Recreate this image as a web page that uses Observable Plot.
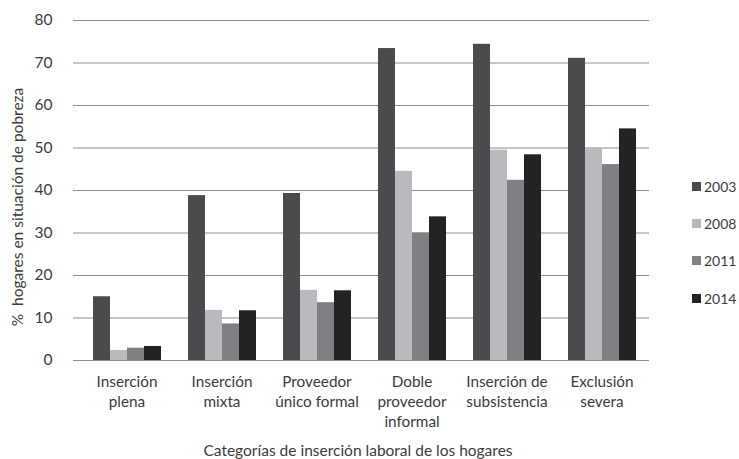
<!DOCTYPE html>
<html>
<head>
<meta charset="utf-8">
<script src="https://cdn.jsdelivr.net/npm/d3@7"></script>
<script src="https://cdn.jsdelivr.net/npm/@observablehq/plot@0.6"></script>
<style>
  html, body { margin: 0; padding: 0; background: #fff; }
  #wrap { position: relative; width: 739px; height: 459px; font-family: Lato, "Open Sans", sans-serif; color: #3c3c3c; }
  #ylab { position: absolute; left: 17px; top: 207px; transform: translate(-50%, -50%) rotate(-90deg); white-space: nowrap; font-size: 15.5px; }
  #xlab { position: absolute; left: 358px; top: 450px; transform: translate(-50%, -50%); white-space: nowrap; font-size: 15.5px; }
  #legend { position: absolute; left: 692px; top: 168px; font-size: 14px; }
  .li { display: flex; align-items: center; height: 37.2px; }
  .sw { width: 9px; height: 9px; margin-right: 3px; }
</style>
</head>
<body>
<div id="wrap">
  <div id="chart"></div>
  <div id="ylab">%&nbsp; hogares en situación de pobreza</div>
  <div id="xlab">Categorías de inserción laboral de los hogares</div>
  <div id="legend"></div>
</div>
<script>
const categories = ["Inserción\nplena", "Inserción\nmixta", "Proveedor\núnico formal", "Doble\nproveedor\ninformal", "Inserción de\nsubsistencia", "Exclusión\nsevera"];
const years = ["2003", "2008", "2011", "2014"];
const values2003 = [15.0, 38.8, 39.3, 73.4, 74.4, 71.1];
const values2008 = [2.35, 11.8, 16.5, 44.5, 49.5, 50.0];
const values2011 = [2.9, 8.6, 13.6, 30.0, 42.4, 46.1];
const values2014 = [3.3, 11.7, 16.4, 33.8, 48.4, 54.5];
const yTicks = [0, 10, 20, 30, 40, 50, 60, 70, 80];
const colors = ["#4a4b4d", "#b9babd", "#7f8083", "#252223"];

const series = [values2003, values2008, values2011, values2014];
const data = [];
categories.forEach((c, i) => years.forEach((y, j) => data.push({cat: c, year: y, value: series[j][i]})));

const W = 739, H = 459, ML = 79, MR = 90, MT = 20, MB = 99;
const fw = (W - ML - MR) / categories.length;

const chart = Plot.plot({
  width: W, height: H,
  marginLeft: ML, marginRight: MR, marginTop: MT, marginBottom: MB,
  style: {fontFamily: "Lato, 'Open Sans', sans-serif", color: "#3c3c3c", background: "#fff"},
  fx: {domain: categories, padding: 0, axis: null},
  x: {domain: years, paddingInner: 0, paddingOuter: 0.745, axis: null},
  y: {domain: [0, 80], axis: null},
  color: {domain: years, range: colors},
  marks: [
    Plot.ruleY(yTicks, {stroke: "#8e8e8e", strokeWidth: 1}),
    Plot.barY(data, {fx: "cat", x: "year", y: "value", fill: "year"}),
    Plot.axisY(yTicks, {tickSize: 6, tickPadding: 21, stroke: "#8e8e8e", fill: "#3c3c3c", fontSize: 15.5, label: null, tickFormat: d => d}),
    Plot.ruleX([categories[0]], {fx: d => d, y1: 0, y2: 80, dx: -fw / 2, stroke: "#8e8e8e"}),
    Plot.ruleX(categories, {fx: d => d, y1: 0, y2: 0, insetBottom: -6, dx: -fw / 2, stroke: "#8e8e8e"}),
    Plot.ruleX([categories[categories.length - 1]], {fx: d => d, y1: 0, y2: 0, insetBottom: -6, dx: fw / 2, stroke: "#8e8e8e"}),
    Plot.text(categories, {fx: d => d, text: d => d, frameAnchor: "bottom", lineAnchor: "top", dy: 13, lineHeight: 1.28, fontSize: 15.3, fill: "#3c3c3c"})
  ]
});
document.getElementById("chart").appendChild(chart);

const legend = document.getElementById("legend");
years.forEach((y, j) => {
  const d = document.createElement("div");
  d.className = "li";
  d.innerHTML = `<span class="sw" style="background:${colors[j]}"></span><span>${y}</span>`;
  legend.appendChild(d);
});
</script>
</body>
</html>
